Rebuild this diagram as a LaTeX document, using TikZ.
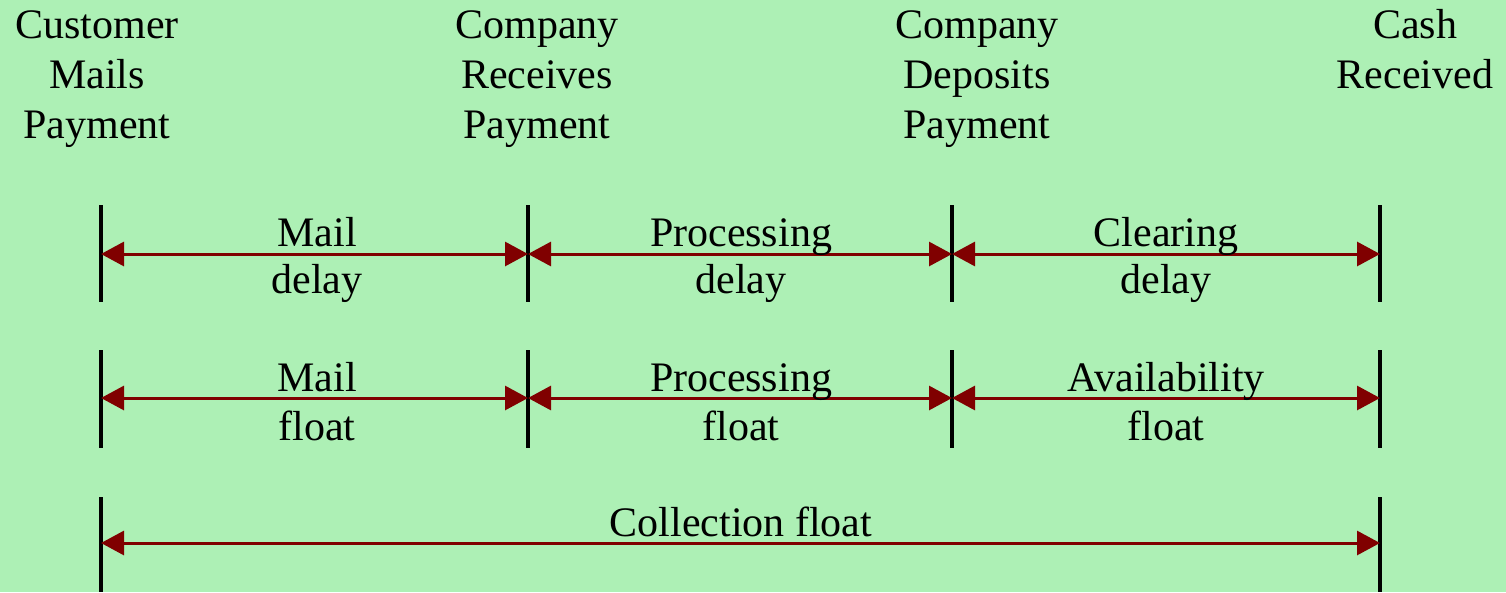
\documentclass[tikz,border=0pt]{standalone}
\usepackage{fontspec}
\setmainfont{Liberation Serif}
\usetikzlibrary{arrows.meta}
\definecolor{bgcol}{RGB}{173,240,181}
\definecolor{spancol}{RGB}{128,0,0}
% centred multi-line text whose baseline is that of its first line
\newcommand{\stackedtext}[1]{\setlength\tabcolsep{0pt}\begin{tabular}[t]{c}#1\end{tabular}}
\begin{document}
\begin{tikzpicture}[x=1pt,y=-1pt,
  tick/.style={line width=3.5pt,draw=black},
  span/.style={line width=3pt,draw=spancol,
    {Triangle[length=23pt,width=24pt]}-{Triangle[length=23pt,width=24pt]}},
  head/.style={font=\fontsize{42}{50}\selectfont,anchor=base,inner sep=0pt},
  lbl/.style={font=\fontsize{42}{47}\selectfont,anchor=base,inner sep=0pt},
  lblb/.style={font=\fontsize{42}{49}\selectfont,anchor=base,inner sep=0pt}]
\useasboundingbox[fill=bgcol] (0,0) rectangle (1506,592);

% event headings
\node[head] (cust) at (97,38) {\stackedtext{Customer\\Mails\\Payment}};
\node[head] (recv) at (537,38) {\stackedtext{Company\\Receives\\Payment}};
\node[head] (depo) at (977,38) {\stackedtext{Company\\Deposits\\Payment}};
\node[head] (cash) at (1415,38) {\stackedtext{Cash\\Received}};

% tick marks
\foreach \x in {101,528,952,1380} {
  \draw[tick] (\x,205) -- (\x,302);
  \draw[tick] (\x,350) -- (\x,448);
}
\draw[tick] (101,497) -- (101,592);
\draw[tick] (1380,497) -- (1380,592);

% span end points
\coordinate (a1) at (101,254);  \coordinate (b1) at (528,254);
\coordinate (c1) at (952,254);  \coordinate (d1) at (1380,254);
\coordinate (a2) at (101,398);  \coordinate (b2) at (528,398);
\coordinate (c2) at (952,398);  \coordinate (d2) at (1380,398);
\coordinate (a3) at (101,543);  \coordinate (d3) at (1380,543);

% delays
\draw[span] (a1) -- (b1);
\draw[span] (b1) -- (c1);
\draw[span] (c1) -- (d1);
\node[lbl] (mdel) at (317,246) {\stackedtext{Mail\\delay}};
\node[lbl] (pdel) at (741,246) {\stackedtext{Processing\\delay}};
\node[lbl] (cdel) at (1166,246) {\stackedtext{Clearing\\delay}};

% floats
\draw[span] (a2) -- (b2);
\draw[span] (b2) -- (c2);
\draw[span] (c2) -- (d2);
\node[lblb] (mflo) at (317,391) {\stackedtext{Mail\\float}};
\node[lblb] (pflo) at (741,391) {\stackedtext{Processing\\float}};
\node[lblb] (aflo) at (1166,391) {\stackedtext{Availability\\float}};

% total
\draw[span] (a3) -- (d3);
\node[lbl] (cflo) at (741,536) {Collection float};
\end{tikzpicture}
\end{document}
